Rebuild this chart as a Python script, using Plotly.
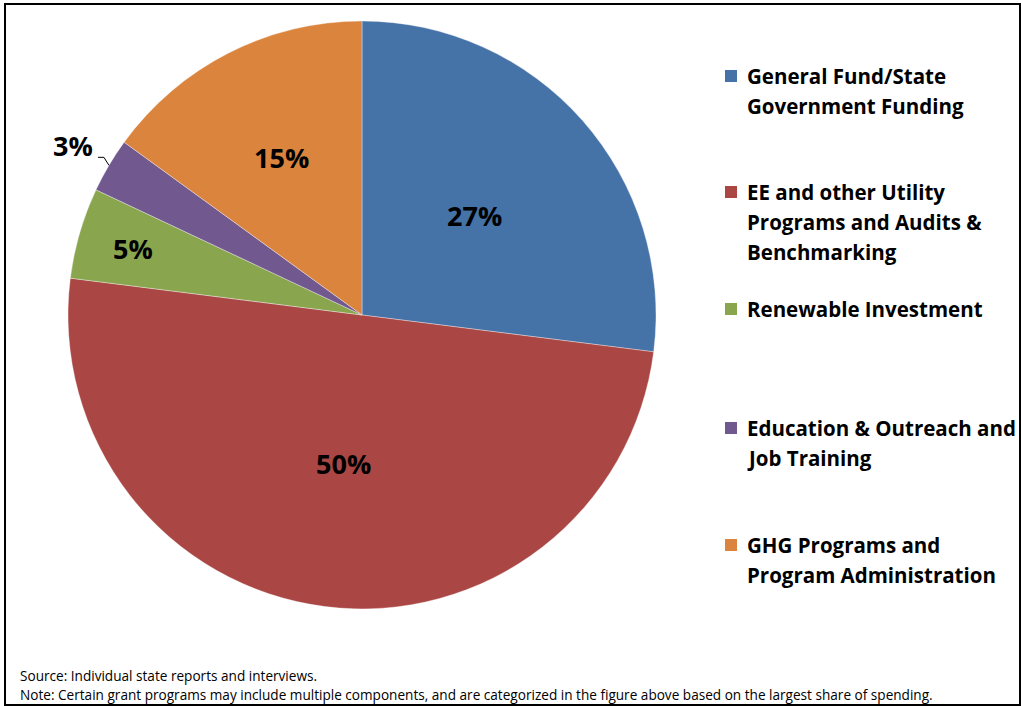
import math
import plotly.graph_objects as go

# Share of spending by program category
categories = [
    "General Fund/State Government Funding",
    "EE and other Utility Programs and Audits & Benchmarking",
    "Renewable Investment",
    "Education & Outreach and Job Training",
    "GHG Programs and Program Administration",
]
shares = [27, 50, 5, 3, 15]
legend_lines = [
    ["General Fund/State", "Government Funding"],
    ["EE and other Utility", "Programs and Audits &", "Benchmarking"],
    ["Renewable Investment"],
    ["Education & Outreach and", "Job Training"],
    ["GHG Programs and", "Program Administration"],
]
colors = ["#4572A7", "#AA4643", "#89A54E", "#71588F", "#DB843D"]

W, H = 1021, 706
CX, CY, R = 362, 315, 294          # pie centre and radius in pixels
label_radius = [0.51, 0.51, 0.81, None, 0.60]   # None -> outside with leader
FONT = "'Open Sans', Lato, sans-serif"


def px(x):
    return x / W


def py(y):
    return 1 - y / H


fig = go.Figure(
    go.Pie(
        labels=categories,
        values=shares,
        sort=False,
        direction="clockwise",
        rotation=0,
        marker=dict(colors=colors, line=dict(color="rgba(255,255,255,0.45)", width=0.8)),
        textinfo="none",
        hoverinfo="label+percent",
        showlegend=False,
        domain=dict(x=[px(CX - R), px(CX + R)], y=[py(CY + R), py(CY - R)]),
    )
)

annotations = []
shapes = []

# Percentage labels placed at each slice's mid-angle
total = sum(shares)
cum = 0
for val, rfrac in zip(shares, label_radius):
    mid = (cum + val / 2) / total * 2 * math.pi
    cum += val
    sx, sy = math.sin(mid), -math.cos(mid)
    if rfrac is not None:
        x, y = CX + rfrac * R * sx, CY + rfrac * R * sy
        annotations.append(dict(
            x=px(x), y=py(y), xref="paper", yref="paper", text=f"{val}%",
            showarrow=False, xanchor="center", yanchor="middle",
            font=dict(family=FONT, size=27, color="black", weight="bold"),
        ))
    else:
        ex, ey = CX + R * sx, CY + R * sy
        kx, ky = ex - 5, ey - 8
        hx = kx - 6
        shapes.append(dict(type="path", xref="paper", yref="paper",
                           path=f"M {px(ex)} {py(ey)} L {px(kx)} {py(ky)} L {px(hx)} {py(ky)}",
                           line=dict(color="black", width=1)))
        annotations.append(dict(
            x=px(hx - 3), y=py(ky - 12), xref="paper", yref="paper", text=f"{val}%",
            showarrow=False, xanchor="right", yanchor="middle",
            font=dict(family=FONT, size=27, color="black", weight="bold"),
        ))

# Legend drawn as colour squares with wrapped bold labels
first_line_y = [76, 192, 309, 428, 545]
line_gap = 30
for color, lines, y0 in zip(colors, legend_lines, first_line_y):
    shapes.append(dict(type="rect", xref="paper", yref="paper",
                       x0=px(725), x1=px(737), y0=py(y0 + 6), y1=py(y0 - 6),
                       fillcolor=color, line=dict(width=0)))
    for i, txt in enumerate(lines):
        annotations.append(dict(
            x=px(745), y=py(y0 + i * line_gap), xref="paper", yref="paper",
            text=txt, showarrow=False, xanchor="left", yanchor="middle",
            font=dict(family=FONT, size=20.5, color="black", weight="bold"),
        ))

# Footnotes
notes = [
    "Source: Individual state reports and interviews.",
    "Note: Certain grant programs may include multiple components, and are categorized in the figure above based on the largest share of spending.",
]
for txt, y in zip(notes, [675, 694]):
    annotations.append(dict(
        x=px(18), y=py(y), xref="paper", yref="paper", text=txt,
        showarrow=False, xanchor="left", yanchor="middle",
        font=dict(family=FONT, size=13.6, color="black"),
    ))

# Outer frame
shapes.append(dict(type="rect", xref="paper", yref="paper",
                   x0=px(5), x1=px(1020), y0=py(705), y1=py(4),
                   line=dict(color="black", width=2), fillcolor="rgba(0,0,0,0)"))

fig.update_layout(
    width=W, height=H,
    margin=dict(l=0, r=0, t=0, b=0),
    paper_bgcolor="white",
    plot_bgcolor="white",
    annotations=annotations,
    shapes=shapes,
)

fig.write_html("out.html")
